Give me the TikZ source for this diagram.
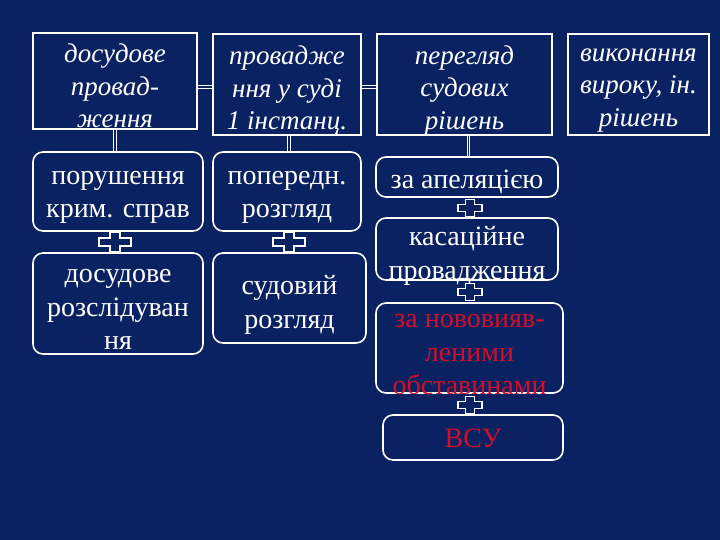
\documentclass[tikz,border=0pt]{standalone}
\usepackage{fontspec}
\setmainfont{Liberation Serif}
\usetikzlibrary{calc}
\definecolor{bg}{RGB}{10,34,98}
\definecolor{redtxt}{RGB}{210,15,40}
\tikzset{
  topbox/.style={draw=white, line width=1.6pt, fill=bg, inner sep=0pt},
  rbox/.style={draw=white, line width=1.6pt, fill=bg, inner sep=0pt, rounded corners=10pt},
  toplbl/.style={text=white, inner sep=0pt, align=center, font=\fontsize{27}{32.5}\selectfont\itshape},
  lbl/.style={text=white, inner sep=0pt, align=center, font=\fontsize{28}{33.5}\selectfont},
  conn/.style={draw=white, line width=1.3pt, double=bg, double distance=1.2pt},
  crossbig/.pic={\draw[white, line width=1.4pt, fill=bg]
     (-5,-9.5)--(5,-9.5)--(5,-4)--(16,-4)--(16,4)--(5,4)--(5,9.5)--(-5,9.5)--(-5,4)--(-16,4)--(-16,-4)--(-5,-4)--cycle;},
  crosssmall/.pic={\draw[white, line width=1.4pt, fill=bg]
     (-4.5,-8.5)--(4.5,-8.5)--(4.5,-3.5)--(12,-3.5)--(12,3.5)--(4.5,3.5)--(4.5,8.5)--(-4.5,8.5)--(-4.5,3.5)--(-12,3.5)--(-12,-3.5)--(-4.5,-3.5)--cycle;}
}
\begin{document}
\begin{tikzpicture}[x=1pt,y=-1pt]
\fill[bg] (0,0) rectangle (720,540);
\useasboundingbox (0,0) rectangle (720,540);

\node[topbox, minimum width=164pt, minimum height=96pt] (b1) at (115,81) {};
\node[topbox, minimum width=148pt, minimum height=101pt] (b2) at (287,84.5) {};
\node[topbox, minimum width=175pt, minimum height=101pt] (b3) at (464.5,84.5) {};
\node[topbox, minimum width=141pt, minimum height=101pt] (b4) at (638.5,84.5) {};
\node[toplbl] (t1) at ([yshift=-5pt]b1.center) {досудове\\провад-\\ження};
\node[toplbl] (t2) at ([yshift=-6pt]b2.center) {провадже\\ння у суді\\1 інстанц.};
\node[toplbl] (t3) at ([yshift=-6pt]b3.center) {перегляд\\судових\\рішень};
\node[toplbl] (t4) at ([yshift=-6pt]b4.center) {виконання\\вироку, ін.\\рішень};

\node[rbox, minimum width=170pt, minimum height=79pt] (a) at (118,191.5) {};
\node[rbox, minimum width=148pt, minimum height=79pt] (b) at (287,191.5) {};
\node[rbox, minimum width=170pt, minimum height=101pt] (c) at (118,303.5) {};
\node[rbox, minimum width=153pt, minimum height=90pt] (d) at (289.5,298) {};
\node[lbl] (ta) at ([yshift=-6pt]a.center) {порушення\\крим. справ};
\node[lbl] (tb) at ([yshift=-6pt]b.center) {попередн.\\розгляд};
\node[lbl] (tc) at ([yshift=-6pt]c.center) {досудове\\розслідуван\\ня};
\node[lbl] (td) at ([yshift=-7pt]d.center) {судовий\\розгляд};

\node[rbox, minimum width=182pt, minimum height=40pt] (e) at (467,177) {};
\node[rbox, minimum width=182pt, minimum height=62pt] (f) at (467,249) {};
\node[rbox, minimum width=187pt, minimum height=90pt] (g) at (469.5,348) {};
\node[rbox, minimum width=180pt, minimum height=45pt] (h) at (473,437.5) {};
\node[lbl] (te) at ([yshift=-5pt]e.center) {за апеляцією};
\node[lbl] (tf) at ([yshift=-7pt]f.center) {касаційне\\провадження};
\node[lbl, text=redtxt] (tg) at ([yshift=-7pt]g.center) {за нововияв-\\леними\\обставинами};
\node[lbl, text=redtxt] (th) at ([yshift=-1pt]h.center) {ВСУ};

\draw[conn] ([yshift=-6pt]b1.east) -- ([yshift=-6pt]b1.east -| b2.west);
\draw[conn] ([yshift=-2.5pt]b2.west -| b2.east) -- ([yshift=-2.5pt]b3.west);
\draw[conn] (b1.south) -- (b1.south |- a.north);
\draw[conn] ([xshift=2pt]b2.south) -- ([xshift=2pt]b2.south |- b.north);
\draw[conn] ([xshift=4pt]b3.south) -- ([xshift=4pt]b3.south |- e.north);

\pic at (115,242) {crossbig};
\pic at (289,242) {crossbig};
\pic at (470,208) {crosssmall};
\pic at (470,292) {crosssmall};
\pic at (470,405) {crosssmall};
\end{tikzpicture}
\end{document}
